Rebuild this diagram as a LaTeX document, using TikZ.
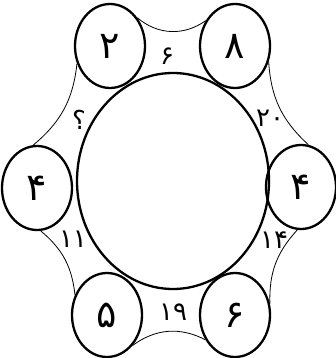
\documentclass[tikz,border=0pt]{standalone}
\usepackage{fontspec}
\usepackage{tikz}
\usetikzlibrary{shapes.geometric}
\newfontfamily\farsi[Script=Arabic]{DejaVu Sans}

\begin{document}
\begin{tikzpicture}[x=1pt,y=-1pt,
  seat/.style={draw,ellipse,line width=2.3pt,inner sep=0pt,minimum width=70pt,minimum height=84pt,font=\farsi\fontsize{38}{40}\selectfont},
  link/.style={line width=0.8pt},
  tag/.style={font=\farsi\fontsize{26}{28}\selectfont}]
  \useasboundingbox (0,0) rectangle (336,358);
  \node[draw,ellipse,line width=2.3pt,minimum width=192pt,minimum height=216pt] (hub) at (173,181) {};
  \node[seat] (tl) at (110,46) {۲};
  \node[seat] (tr) at (235,46) {۸};
  \node[seat] (ml) at (37,188) {۴};
  \node[seat] (mr) at (301,187) {۴};
  \node[seat] (bl) at (107,315) {۵};
  \node[seat] (br) at (235,315) {۶};
  \draw[link] (tl.46) to[bend right=38] (tr.139);
  \draw[link] (tr.-25) to[bend right=22] (mr.80);
  \draw[link] (mr.-95) to[bend right=22] (br.18);
  \draw[link] (bl.-50) to[bend left=32] (br.-140);
  \draw[link] (ml.-85) to[bend left=22] (bl.148);
  \draw[link] (tl.208) to[bend left=22] (ml.95);
  \node[tag] (t1) at (167,56) {۶};
  \node[tag] (t2) at (270,118) {۲۰};
  \node[tag] (t3) at (274,240) {۱۴};
  \node[tag] (t4) at (173,312) {۱۹};
  \node[tag] (t5) at (73,239) {۱۱};
  \node[tag] (t6) at (79,120) {؟};
\end{tikzpicture}
\end{document}
